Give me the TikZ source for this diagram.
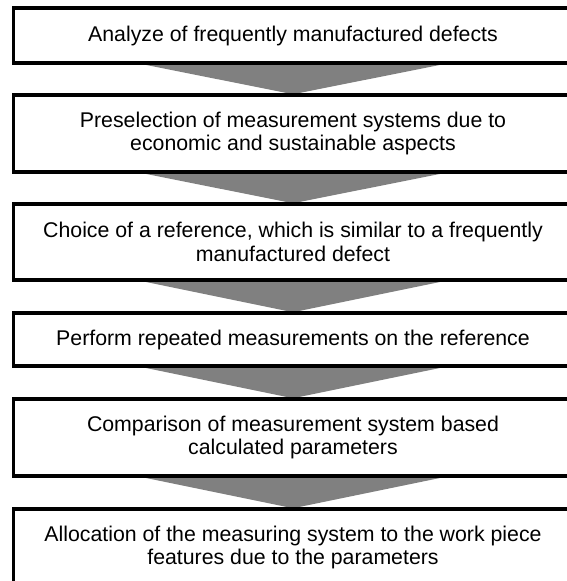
\documentclass[tikz,border=0pt]{standalone}
\usepackage{fontspec}
\setmainfont{Liberation Sans}
\usetikzlibrary{calc}
\definecolor{arrowgray}{RGB}{128,128,128}
\begin{document}
\begin{tikzpicture}[x=1pt,y=1pt,
  stepbox/.style={draw=black, line width=2.5pt, fill=white, minimum width=558pt,
    inner sep=0pt, align=center, font=\fontsize{21.3}{23.5}\selectfont},
  funnel/.style={fill=arrowgray}]
\useasboundingbox (0,0) rectangle (567,-581);
\node[stepbox, minimum height=54pt] (b1) at (293,-35.5) {Analyze of frequently manufactured defects};
\node[stepbox, minimum height=76pt] (b2) at (293,-133.5) {Preselection of measurement systems due to\\economic and sustainable aspects};
\node[stepbox, minimum height=75pt] (b3) at (293,-242) {Choice of a reference, which is similar to a frequently\\manufactured defect};
\node[stepbox, minimum height=52pt] (b4) at (293,-339.5) {Perform repeated measurements on the reference};
\node[stepbox, minimum height=76pt] (b5) at (293,-437.5) {Comparison of measurement system based\\calculated parameters};
\node[stepbox, minimum height=76pt] (b6) at (293,-547.5) {Allocation of the measuring system to the work piece\\features due to the parameters};
\foreach \a/\b in {b1/b2,b2/b3,b3/b4,b4/b5,b5/b6}{
  \fill[funnel] ($(\a.south)+(-153,0)$) -- ($(\a.south)+(153,0)$) -- (\b.north) -- cycle;
}
\foreach \n in {b1,b2,b3,b4,b5,b6}{
  \draw[line width=2.5pt] (\n.south west) rectangle (\n.north east);
}
\end{tikzpicture}
\end{document}
